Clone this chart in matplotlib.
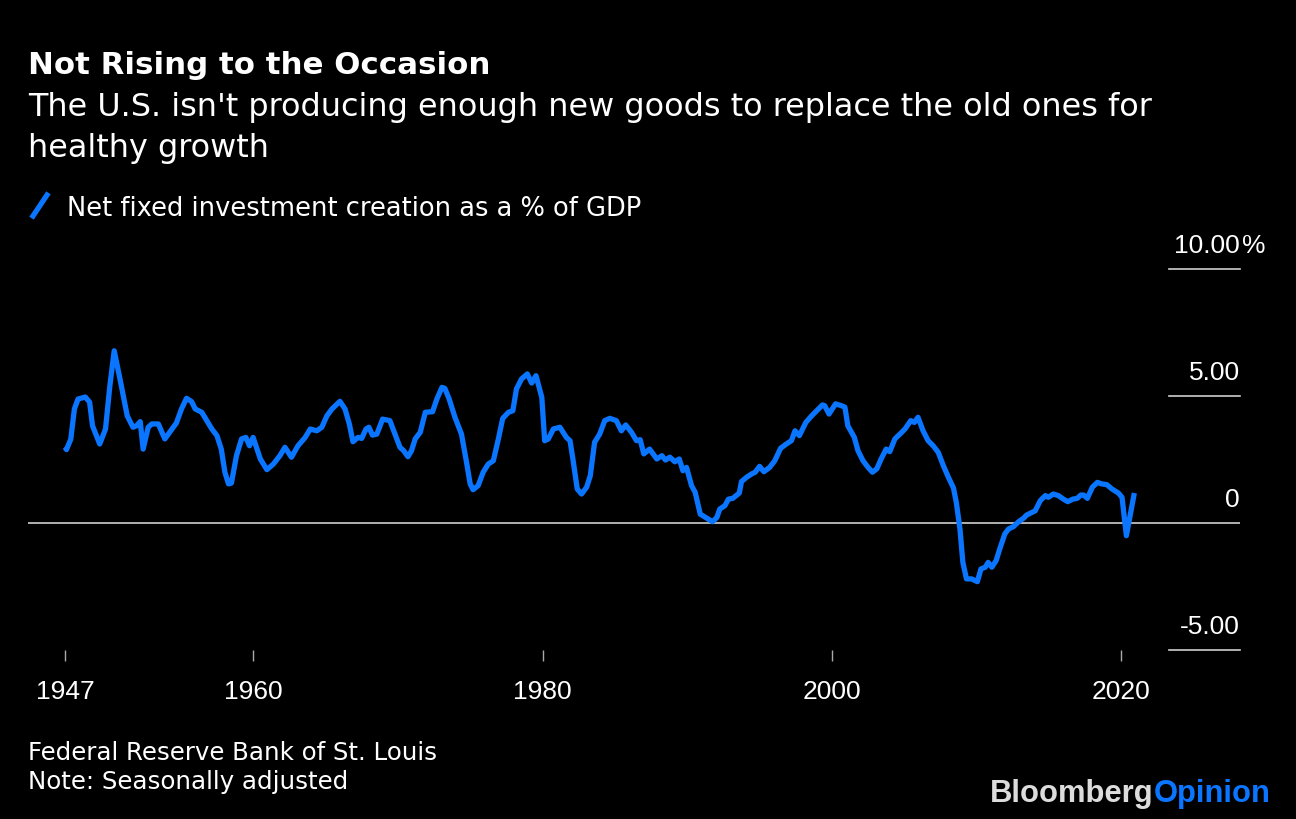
import matplotlib
matplotlib.use("Agg")
import matplotlib.pyplot as plt
import matplotlib.transforms as mtransforms
from matplotlib.lines import Line2D

# ---------------- data ----------------
years = [
    1947.0, 1947.1, 1947.4, 1947.65, 1947.9, 1948.4, 1948.7, 1948.9, 1949.4, 1949.8,
    1950.1, 1950.4, 1950.8, 1951.3, 1951.7, 1951.95, 1952.2, 1952.4, 1952.75, 1953.0,
    1953.45, 1953.9, 1954.4, 1954.7, 1955.05, 1955.4, 1955.75, 1956.0, 1956.45, 1956.8,
    1957.15, 1957.5, 1957.8, 1958.05, 1958.3, 1958.5, 1958.85, 1959.2, 1959.5, 1959.75,
    1960.0, 1960.5, 1960.95, 1961.4, 1961.85, 1962.2, 1962.65, 1963.1, 1963.6, 1963.95,
    1964.4, 1964.75, 1965.1, 1965.45, 1966.0, 1966.35, 1966.65, 1966.9, 1967.25, 1967.5,
    1967.8, 1968.0, 1968.25, 1968.55, 1968.95, 1969.45, 1969.8, 1970.15, 1970.4, 1970.7,
    1970.95, 1971.2, 1971.55, 1971.9, 1972.4, 1972.7, 1973.05, 1973.25, 1973.55, 1973.95,
    1974.4, 1974.75, 1975.0, 1975.2, 1975.55, 1975.9, 1976.25, 1976.6, 1976.95, 1977.25,
    1977.65, 1977.95, 1978.2, 1978.55, 1978.95, 1979.25, 1979.55, 1979.95, 1980.15, 1980.4,
    1980.75, 1981.2, 1981.65, 1981.9, 1982.1, 1982.4, 1982.7, 1983.05, 1983.3, 1983.6,
    1983.95, 1984.3, 1984.65, 1985.1, 1985.45, 1985.75, 1986.15, 1986.5, 1986.75, 1987.0,
    1987.4, 1987.9, 1988.25, 1988.5, 1988.8, 1989.15, 1989.45, 1989.7, 1989.95, 1990.3,
    1990.55, 1990.9, 1991.35, 1991.75, 1992.05, 1992.25, 1992.6, 1992.85, 1993.15, 1993.6,
    1993.75, 1994.1, 1994.45, 1994.7, 1995.0, 1995.3, 1995.7, 1996.05, 1996.45, 1996.85,
    1997.2, 1997.45, 1997.75, 1998.2, 1998.6, 1998.95, 1999.35, 1999.5, 1999.8, 2000.25,
    2000.65, 2000.9, 2001.1, 2001.35, 2001.55, 2001.8, 2002.15, 2002.5, 2002.8, 2003.1,
    2003.4, 2003.75, 2004.0, 2004.35, 2004.7, 2005.05, 2005.45, 2005.7, 2005.95, 2006.3,
    2006.65, 2007.0, 2007.35, 2007.7, 2008.05, 2008.4, 2008.6, 2008.85, 2009.05, 2009.3,
    2009.65, 2010.05, 2010.3, 2010.6, 2010.8, 2011.05, 2011.35, 2011.6, 2011.95, 2012.2,
    2012.55, 2012.9, 2013.25, 2013.45, 2014.05, 2014.4, 2014.75, 2014.95, 2015.3, 2015.65,
    2016.0, 2016.3, 2016.65, 2016.95, 2017.2, 2017.4, 2017.65, 2018.0, 2018.35, 2018.65,
    2019.0, 2019.35, 2019.8, 2020.05, 2020.35, 2020.65, 2020.9,
]
net_investment_pct_gdp = [
    2.98, 2.89, 3.30, 4.49, 4.88, 4.96, 4.76, 3.83, 3.11, 3.70,
    5.40, 6.78, 5.67, 4.22, 3.77, 3.83, 3.99, 2.91, 3.77, 3.90,
    3.90, 3.31, 3.70, 3.94, 4.49, 4.91, 4.78, 4.49, 4.36, 4.03,
    3.70, 3.44, 2.91, 2.00, 1.54, 1.57, 2.65, 3.31, 3.37, 3.04,
    3.37, 2.52, 2.10, 2.32, 2.65, 2.98, 2.59, 3.04, 3.37, 3.70,
    3.63, 3.77, 4.22, 4.49, 4.79, 4.49, 3.90, 3.20, 3.37, 3.33,
    3.70, 3.77, 3.46, 3.50, 4.09, 4.03, 3.50, 2.98, 2.85, 2.61,
    2.85, 3.31, 3.57, 4.36, 4.38, 4.88, 5.34, 5.30, 4.88, 4.16,
    3.50, 2.39, 1.54, 1.31, 1.47, 2.00, 2.32, 2.45, 3.31, 4.12,
    4.36, 4.42, 5.28, 5.67, 5.87, 5.51, 5.80, 4.95, 3.24, 3.31,
    3.70, 3.77, 3.37, 3.24, 2.52, 1.34, 1.14, 1.41, 1.86, 3.18,
    3.50, 4.03, 4.12, 4.03, 3.63, 3.86, 3.57, 3.24, 3.28, 2.72,
    2.91, 2.52, 2.65, 2.48, 2.59, 2.41, 2.52, 2.06, 2.19, 1.47,
    1.21, 0.35, 0.19, 0.05, 0.22, 0.55, 0.68, 0.94, 0.97, 1.18,
    1.63, 1.80, 1.93, 2.00, 2.23, 2.02, 2.19, 2.45, 2.94, 3.11,
    3.24, 3.63, 3.44, 3.96, 4.22, 4.42, 4.65, 4.62, 4.29, 4.69,
    4.62, 4.56, 3.83, 3.57, 3.37, 2.85, 2.45, 2.19, 2.00, 2.13,
    2.52, 2.91, 2.81, 3.31, 3.50, 3.70, 4.03, 3.96, 4.16, 3.63,
    3.24, 3.04, 2.78, 2.26, 1.80, 1.38, 0.80, -0.24, -1.55, -2.20,
    -2.20, -2.31, -1.81, -1.74, -1.55, -1.74, -1.48, -1.02, -0.43, -0.24,
    -0.14, 0.05, 0.19, 0.31, 0.48, 0.88, 1.08, 1.01, 1.14, 1.08,
    0.94, 0.84, 0.94, 0.97, 1.10, 1.10, 0.97, 1.41, 1.60, 1.54,
    1.51, 1.34, 1.18, 1.01, -0.50, 0.42, 1.18,
]
x_ticks = [1947, 1960, 1980, 2000, 2020]
x_tick_labels = ["1947", "1960", "1980", "2000", "2020"]
y_ticks = [10, 5, 0, -5]
y_tick_labels = ["10.00", "5.00", "0", "-5.00"]

title = "Not Rising to the Occasion"
subtitle_lines = ["The U.S. isn't producing enough new goods to replace the old ones for",
                  "healthy growth"]
legend_label = "Net fixed investment creation as a % of GDP"
source_lines = ["Federal Reserve Bank of St. Louis", "Note: Seasonally adjusted"]

# ---------------- style ----------------
W, H = 1296, 820
BG = "#000000"
BLUE = "#0a75ff"
GRID = "#cfcfcf"
NUM_FONT = ["Liberation Sans", "DejaVu Sans"]
TXT_FONT = ["DejaVu Sans"]
plt.rcParams["font.family"] = NUM_FONT

fig = plt.figure(figsize=(W / 100, H / 100), dpi=100, facecolor=BG)
renderer = fig.canvas.get_renderer()


def fx(px):
    return px / W


def fy(py):
    return 1 - py / H


def fit_text(x, y, s, target_w, size0=20, **kw):
    """Place text and scale its font size so it spans target_w pixels."""
    t = fig.text(fx(x), fy(y), s, fontsize=size0, ha="left", va="baseline", **kw)
    w = t.get_window_extent(renderer=renderer).width
    t.set_fontsize(size0 * target_w / w)
    return t


# axes box: x px 28..1240, y px 270 (10) .. 651 (-5)
ax_left, ax_right, ax_top, ax_bottom = 28, 1240, 270, 651
ax = fig.add_axes([fx(ax_left), fy(ax_bottom), fx(ax_right - ax_left), (ax_bottom - ax_top) / H])
ax.set_facecolor(BG)
for s in ax.spines.values():
    s.set_visible(False)

# x scale: 1947 at px 65, 14.47 px per year
ppy = 14.47
ax.set_xlim(1947 - (65 - ax_left) / ppy, 1947 + (ax_right - 65) / ppy)
ax.set_ylim(-5, 10)

ax.axhline(0, color=GRID, lw=1.2, zorder=1)
trans = mtransforms.blended_transform_factory(ax.transAxes, ax.transData)
seg_start = (1169 - ax_left) / (ax_right - ax_left)
for yv in y_ticks:
    if yv != 0:
        ax.plot([seg_start, 1.0], [yv, yv], color=GRID, lw=1.2, transform=trans,
                clip_on=False, zorder=1)

ax.plot(years, net_investment_pct_gdp, color=BLUE, lw=3.8, solid_capstyle="butt",
        solid_joinstyle="round", zorder=3)

ax.set_xticks(x_ticks)
ax.set_xticklabels(x_tick_labels, fontsize=19, color="white")
ax.tick_params(axis="x", length=8, width=1, color="#aaaaaa", pad=13)
ax.set_yticks([])

# y tick labels (placed above their gridlines, right-aligned)
off = mtransforms.ScaledTranslation(0, 17 / 100, fig.dpi_scale_trans)
for yv, lab in zip(y_ticks, y_tick_labels):
    ax.text(1.0, yv, lab, transform=trans + off, ha="right", va="baseline",
            fontsize=19, color="white")
ax.text(1.0 + 2 / (ax_right - ax_left), 10, "%", transform=trans + off, ha="left",
        va="baseline", fontsize=19, color="white")

# ---------------- texts ----------------
fit_text(28, 74, title, 461, fontweight="bold", color="white", family=TXT_FONT)
st = fit_text(28, 116, subtitle_lines[0], 1122, color="white", family=TXT_FONT)
fig.text(fx(28), fy(157), subtitle_lines[1], fontsize=st.get_fontsize(), color="white",
         ha="left", va="baseline", family=TXT_FONT)

# legend
fig.add_artist(Line2D([fx(33), fx(47)], [fy(217), fy(196)], color=BLUE, lw=3.8,
                      transform=fig.transFigure))
fit_text(67, 216, legend_label, 573, color="white", family=TXT_FONT)

# source
sr = fit_text(28, 760, source_lines[0], 409, color="white", family=TXT_FONT)
fig.text(fx(28), fy(789), source_lines[1], fontsize=sr.get_fontsize(), color="white",
         ha="left", va="baseline", family=TXT_FONT)

# logo
t1 = fig.text(fx(990), fy(802), "Bloomberg", fontsize=22.3, fontweight="bold",
              color="#dcdcdc", ha="left", va="baseline")
bb = t1.get_window_extent(renderer=renderer)
fig.text(bb.x1 / W, fy(802), "Opinion", fontsize=22.3, fontweight="bold",
         color=BLUE, ha="left", va="baseline")

fig.savefig("out.png", dpi=100, facecolor=BG)
